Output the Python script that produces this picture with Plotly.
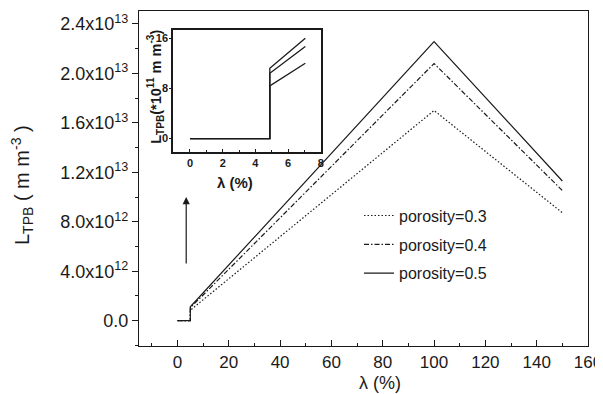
import plotly.graph_objects as go

# ---- data ----
lam_main = [0, 5, 5, 100, 150]
por03 = [0, 0, 0.84e12, 1.70e13, 8.73e12]
por04 = [0, 0, 1.04e12, 2.08e13, 1.053e13]
por05 = [0, 0, 1.12e12, 2.257e13, 1.13e13]

lam_inset = [0, 4.88, 4.88, 7.05]
ins03 = [0, 0, 8.4, 12.0]
ins04 = [0, 0, 10.4, 14.7]
ins05 = [0, 0, 11.2, 16.0]

series_names = ["porosity=0.3", "porosity=0.4", "porosity=0.5"]
y_tickvals = [0, 4e12, 8e12, 1.2e13, 1.6e13, 2.0e13, 2.4e13]
y_ticktext = ["0.0", "4.0x10<sup>12</sup>", "8.0x10<sup>12</sup>", "1.2x10<sup>13</sup>",
              "1.6x10<sup>13</sup>", "2.0x10<sup>13</sup>", "2.4x10<sup>13</sup>"]
x_tickvals = [0, 20, 40, 60, 80, 100, 120, 140, 160]
ins_x_tickvals = [0, 2, 4, 6, 8]
ins_y_tickvals = [0, 8, 16]

FONT = "Liberation Sans, Arial, sans-serif"
INK = "#1a1a1a"

fig = go.Figure()
dashes = ["1.5px,2px", "5px,2px,1.5px,2px", "solid"]
for i, (name, ys, d) in enumerate(zip(series_names, [por03, por04, por05], dashes)):
    fig.add_trace(go.Scatter(x=lam_main, y=ys, mode="lines", name=name,
                             legendgroup=f"g{i}",
                             line=dict(color=INK, width=1.2, dash=d)))

for ys in [ins03, ins04, ins05]:
    fig.add_trace(go.Scatter(x=lam_inset, y=ys, mode="lines", showlegend=False,
                             xaxis="x2", yaxis="y2",
                             line=dict(color=INK, width=1.3)))

# the page body adds an 8px offset, so the figure is 8px smaller and margins shifted
fig.update_layout(
    width=595, height=386,
    margin=dict(l=131, r=15, t=3, b=48, autoexpand=False),
    paper_bgcolor="white", plot_bgcolor="white",
    font=dict(family=FONT, size=17, color=INK),
    xaxis=dict(domain=[0, 1], anchor="y", range=[-15, 160], tickvals=x_tickvals,
               ticks="inside", ticklen=6, automargin=False,
               tickcolor=INK, linecolor=INK, linewidth=1.3, mirror=True,
               showgrid=False, zeroline=False,
               minor=dict(dtick=10, tick0=0, ticks="inside", ticklen=3, tickcolor=INK),
               tickfont=dict(size=17)),
    yaxis=dict(domain=[0, 1], anchor="x", range=[-2.05e12, 2.505e13], tickvals=y_tickvals,
               ticktext=y_ticktext, automargin=False,
               ticks="outside", ticklen=6, tickcolor=INK, linecolor=INK, linewidth=1.3,
               mirror=True, showgrid=False, zeroline=False,
               minor=dict(dtick=2e12, tick0=0, ticks="outside", ticklen=3, tickcolor=INK),
               tickfont=dict(size=18)),
    xaxis2=dict(domain=[0.0764, 0.405], anchor="y2", range=[-1.02, 8.0], automargin=False,
                tickvals=ins_x_tickvals, ticks="inside", ticklen=3, tickcolor=INK,
                minor=dict(dtick=1, tick0=0, ticks="inside", ticklen=2, tickcolor=INK),
                linecolor=INK, linewidth=2, mirror=True, showgrid=False, zeroline=False,
                tickfont=dict(size=11, family="Liberation Sans, Arial", weight="bold")),
    yaxis2=dict(domain=[0.58, 0.943], anchor="x2", range=[-2.1, 17.3], automargin=False,
                tickvals=ins_y_tickvals, ticks="outside", ticklen=2, tickcolor=INK,
                ticklabelstandoff=-1,
                linecolor=INK, linewidth=2, mirror=True, showgrid=False, zeroline=False,
                tickfont=dict(size=11, family="Liberation Sans, Arial", weight="bold")),
    legend=dict(x=0.49, y=0.44, xanchor="left", yanchor="top",
                bgcolor="rgba(0,0,0,0)", font=dict(size=16), tracegroupgap=5),
    showlegend=True,
)

fig.add_annotation(text="L<sub>TPB</sub> ( m m<sup>-3</sup> )", xref="paper", yref="paper",
                   x=-0.261, y=0.48, textangle=-90, showarrow=False,
                   font=dict(size=20), xanchor="center", yanchor="middle")
fig.add_annotation(text="λ (%)", xref="paper", yref="paper", x=0.537, y=-0.11,
                   showarrow=False, font=dict(size=18), xanchor="center", yanchor="middle")
fig.add_annotation(text="<b>L<sub>TPB</sub>(*10<sup>11</sup> m m<sup>-3</sup>)</b>",
                   xref="paper", yref="paper", x=0.036, y=0.774, textangle=-90,
                   showarrow=False, font=dict(size=14.5), xanchor="center", yanchor="middle")
fig.add_annotation(text="<b>λ (%)</b>", xref="paper", yref="paper", x=0.214, y=0.487,
                   showarrow=False, font=dict(size=15), xanchor="center", yanchor="middle")
# upward arrow
fig.add_annotation(x=3.4, y=1.0e13, ax=3.4, ay=4.5e12, xref="x", yref="y",
                   axref="x", ayref="y", showarrow=True, arrowhead=2, arrowsize=1.2,
                   arrowwidth=1.2, arrowcolor=INK, text="", standoff=0)

fig.write_html("out.html")
